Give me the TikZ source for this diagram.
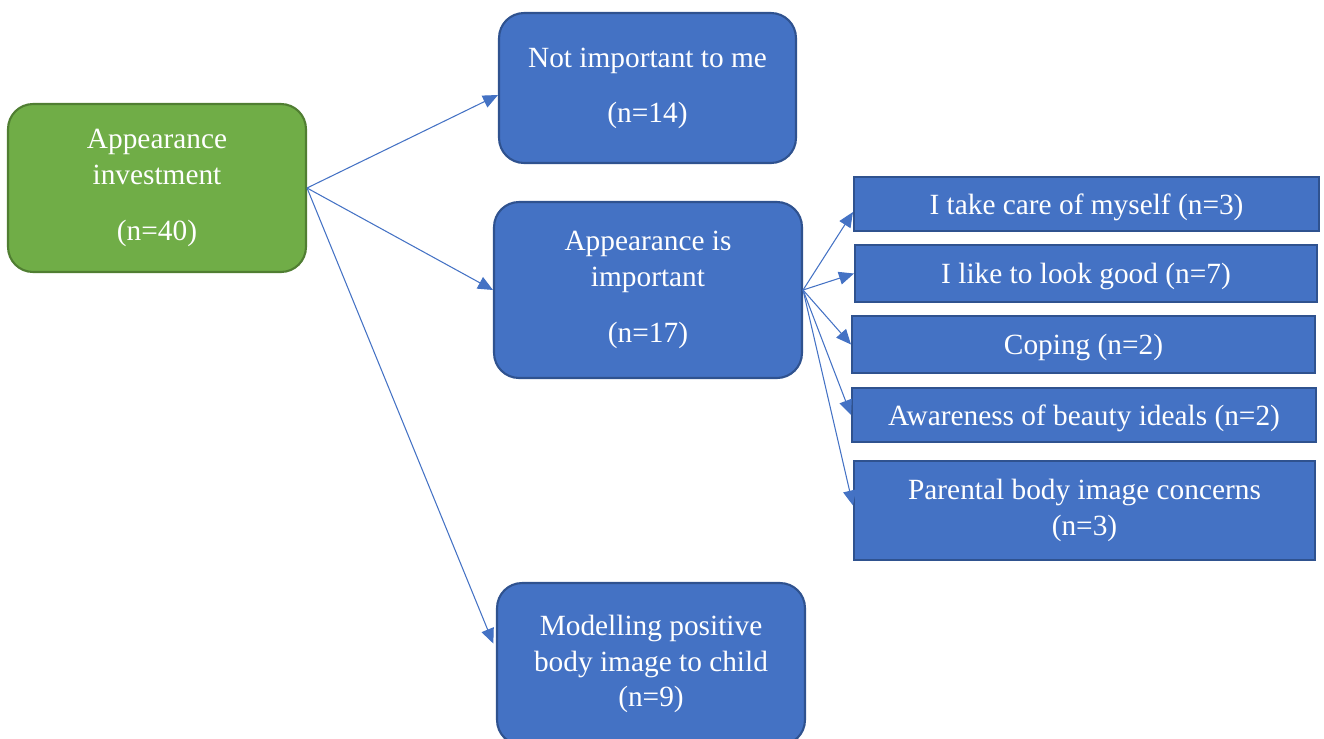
\documentclass[tikz,border=0pt]{standalone}
\usepackage{fontspec}
\setmainfont{Liberation Serif}
\usetikzlibrary{arrows.meta}
\definecolor{boxblue}{HTML}{4472C4}
\definecolor{boxblueline}{HTML}{2F528F}
\definecolor{boxgreen}{HTML}{70AD47}
\definecolor{boxgreenline}{HTML}{507E32}

\begin{document}
\begin{tikzpicture}[x=0.02cm, y=-0.02cm,
	theme/.style={draw=boxblueline, fill=boxblue, line width=1.2pt, rounded corners=0.5cm, text=white, align=center, inner sep=0pt, font=\fontsize{16.7}{20.4}\selectfont},
	subtheme/.style={theme, rounded corners=0pt},
	link/.style={-{Triangle[length=0.3cm,width=0.26cm]}, boxblue, line width=0.6pt}]
	\useasboundingbox (0,0) rectangle (1324,738);
	% main theme
	\node[theme, draw=boxgreenline, fill=boxgreen, minimum width=5.96cm, minimum height=3.36cm] (invest) at (157,188) {Appearance\\investment\\[12pt](n=40)};
	% themes
	\node[theme, minimum width=5.94cm, minimum height=3cm] (notimp) at (647.5,88) {Not important to me\\[11pt](n=14)};
	\node[theme, minimum width=6.16cm, minimum height=3.52cm] (isimp) at (648,290) {Appearance is\\important\\[12pt](n=17)};
	\node[theme, minimum width=6.16cm, minimum height=3.24cm] (model) at (651,664) {Modelling positive\\body image to child\\(n=9)};
	% subthemes
	\node[subtheme, text depth=0pt, minimum width=9.3cm, minimum height=1.08cm] (care) at (1086.5,204) {I take care of myself (n=3)};
	\node[subtheme, text depth=0pt, minimum width=9.24cm, minimum height=1.14cm] (good) at (1086,273.5) {I like to look good (n=7)};
	\node[subtheme, text depth=0pt, minimum width=9.26cm, minimum height=1.14cm] (coping) at (1083.5,344.5) {Coping (n=2)};
	\node[subtheme, text depth=0pt, minimum width=9.28cm, minimum height=1.08cm] (ideals) at (1084,415) {Awareness of beauty ideals (n=2)};
	\node[subtheme, minimum width=9.22cm, minimum height=1.98cm] (parent) at (1084.5,510.5) {Parental body image concerns\\(n=3)};
	% connectors
	\draw[link] (invest.east) -- ([yshift=-0.14cm]notimp.west);
	\draw[link] (invest.east) -- (isimp.west);
	\draw[link, shorten >=0.14cm] (invest.east) -- ([yshift=0.28cm]model.west);
	\draw[link] (isimp.east) -- ([yshift=-0.16cm]care.west);
	\draw[link] (isimp.east) -- (good.west);
	\draw[link] (isimp.east) -- (coping.west);
	\draw[link] (isimp.east) -- (ideals.west);
	\draw[link] (isimp.east) -- ([yshift=0.1cm]parent.west);
\end{tikzpicture}
\end{document}
